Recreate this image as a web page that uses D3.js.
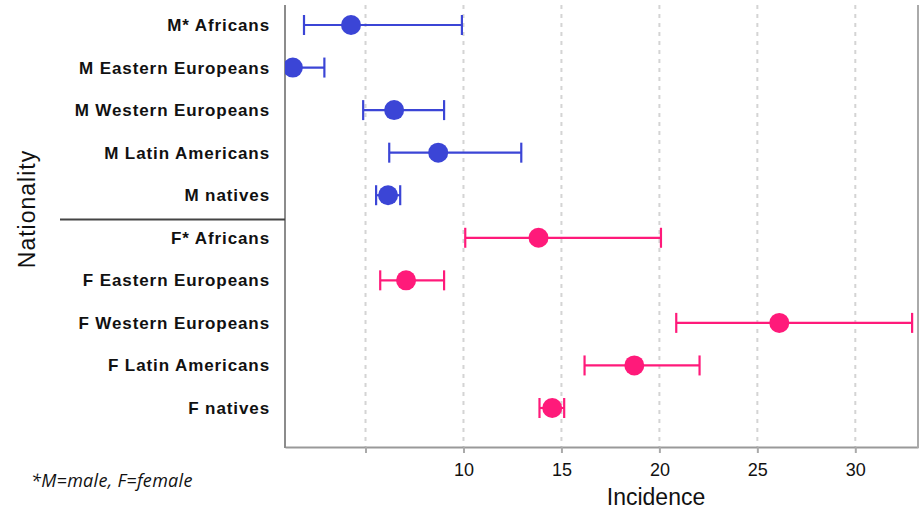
<!DOCTYPE html>
<html>
<head>
<meta charset="utf-8">
<script src="https://cdn.jsdelivr.net/npm/d3@7"></script>
<style>
  body { margin: 0; background: #fff; }
  svg { display: block; }
</style>
</head>
<body>
<div id="chart"></div>
<script>
// categories, top to bottom
const groups = [
  "M* Africans", "M Eastern Europeans", "M Western Europeans", "M Latin Americans", "M natives",
  "F* Africans", "F Eastern Europeans", "F Western Europeans", "F Latin Americans", "F natives"
];
const sex = ["M", "M", "M", "M", "M", "F", "F", "F", "F", "F"];
// incidence point estimates and confidence limits
const incidence = [4.26, 1.29, 6.46, 8.71, 6.15, 13.83, 7.07, 26.12, 18.72, 14.53];
const lower = [1.86, 0.6, 4.88, 6.21, 5.54, 10.09, 5.75, 20.86, 16.18, 13.88];
const upper = [9.92, 2.9, 9.01, 12.95, 6.77, 20.08, 9.01, 32.9, 22.05, 15.14];
const xTicks = [5, 10, 15, 20, 25, 30];
const xTickLabels = ["", "10", "15", "20", "25", "30"];

const width = 921, height = 511;
const margin = { top: 5, right: 3, bottom: 64, left: 285 };
const colors = { M: "#3b45d6", F: "#ff1a7a" };

const svg = d3.select("#chart").append("svg")
  .attr("width", width)
  .attr("height", height);

const x = d3.scaleLinear()
  .domain([0.89, 33.2])
  .range([margin.left, width - margin.right]);

const y = d3.scalePoint()
  .domain(groups)
  .range([margin.top + 20, height - margin.bottom - 39]);

const plotBottom = height - margin.bottom;

// dashed gridlines
svg.append("g")
  .selectAll("line")
  .data(xTicks)
  .join("line")
  .attr("x1", d => x(d)).attr("x2", d => x(d))
  .attr("y1", margin.top).attr("y2", plotBottom)
  .attr("stroke", "#d4d4d4")
  .attr("stroke-width", 2)
  .attr("stroke-dasharray", "4,5");

// bottom axis
const xAxis = svg.append("g")
  .attr("transform", `translate(0,${plotBottom})`)
  .call(d3.axisBottom(x).tickValues(xTicks)
    .tickFormat((d, i) => xTickLabels[i])
    .tickSize(6).tickSizeOuter(0).tickPadding(10));
xAxis.select(".domain").attr("stroke", "#999").attr("stroke-width", 2);
xAxis.selectAll(".tick line").attr("stroke", "#aaa").attr("stroke-width", 2);
xAxis.selectAll(".tick text")
  .attr("font-family", "Liberation Sans, Arial, sans-serif")
  .attr("font-size", 18)
  .attr("fill", "#111");

// left axis with category labels
const yAxis = svg.append("g")
  .attr("transform", `translate(${margin.left},0)`)
  .call(d3.axisLeft(y).tickSize(0).tickPadding(15));
yAxis.select(".domain").remove();
yAxis.selectAll(".tick text")
  .attr("font-family", "Liberation Sans, Arial, sans-serif")
  .attr("font-size", 17)
  .attr("font-weight", "bold")
  .attr("letter-spacing", 0.9)
  .attr("fill", "#111");

// frame lines
svg.append("line")
  .attr("x1", margin.left).attr("x2", margin.left)
  .attr("y1", margin.top).attr("y2", plotBottom + 1)
  .attr("stroke", "#8c8c8c").attr("stroke-width", 2);
svg.append("line")
  .attr("x1", width - margin.right).attr("x2", width - margin.right)
  .attr("y1", margin.top).attr("y2", plotBottom + 1)
  .attr("stroke", "#aaa").attr("stroke-width", 2);

// separator between male and female groups
const sepY = (y("M natives") + y("F* Africans")) / 2 + 3;
svg.append("line")
  .attr("x1", 60).attr("x2", margin.left)
  .attr("y1", sepY).attr("y2", sepY)
  .attr("stroke", "#444").attr("stroke-width", 2);

// error bars and points, clipped to the plot
svg.append("clipPath").attr("id", "clip")
  .append("rect")
  .attr("x", margin.left).attr("y", 0)
  .attr("width", width - margin.right - margin.left)
  .attr("height", plotBottom);

const rows = groups.map((g, i) => ({
  name: g, sex: sex[i], v: incidence[i], lo: lower[i], hi: upper[i]
}));

const marks = svg.append("g").attr("clip-path", "url(#clip)");
const row = marks.selectAll("g").data(rows).join("g")
  .attr("stroke", d => colors[d.sex])
  .attr("fill", d => colors[d.sex]);

row.append("line")
  .attr("x1", d => x(d.lo)).attr("x2", d => x(d.hi))
  .attr("y1", d => y(d.name)).attr("y2", d => y(d.name))
  .attr("stroke-width", 2.2);
row.append("line")
  .attr("x1", d => x(d.lo)).attr("x2", d => x(d.lo))
  .attr("y1", d => y(d.name) - 10).attr("y2", d => y(d.name) + 10)
  .attr("stroke-width", 2.2);
row.append("line")
  .attr("x1", d => x(d.hi)).attr("x2", d => x(d.hi))
  .attr("y1", d => y(d.name) - 10).attr("y2", d => y(d.name) + 10)
  .attr("stroke-width", 2.2);
row.append("circle")
  .attr("cx", d => x(d.v)).attr("cy", d => y(d.name))
  .attr("r", 10)
  .attr("stroke", "none");

// axis titles
svg.append("text")
  .attr("x", 656).attr("y", 505)
  .attr("text-anchor", "middle")
  .attr("font-family", "Liberation Sans Narrow, Liberation Sans, Arial, sans-serif")
  .attr("font-size", 23)
  .attr("fill", "#111")
  .text("Incidence");

svg.append("text")
  .attr("transform", "translate(35,209) rotate(-90)")
  .attr("text-anchor", "middle")
  .attr("font-family", "Liberation Sans, Arial, sans-serif")
  .attr("font-size", 23)
  .attr("letter-spacing", 1)
  .attr("fill", "#111")
  .text("Nationality");

// footnote
svg.append("text")
  .attr("x", 31).attr("y", 487)
  .attr("font-family", "Open Sans, Liberation Sans, sans-serif")
  .attr("font-style", "italic")
  .attr("font-size", 18)
  .attr("letter-spacing", 0.3)
  .attr("fill", "#111")
  .text("*M=male, F=female");
</script>
</body>
</html>
